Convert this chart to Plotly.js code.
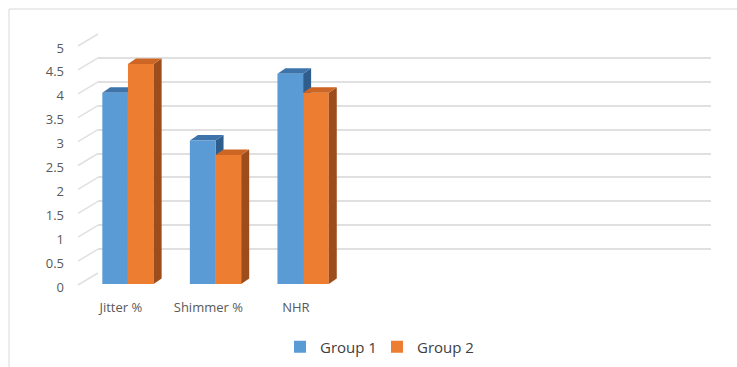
<!DOCTYPE html>
<html>
<head>
<meta charset="utf-8">
<script src="https://cdn.plot.ly/plotly-3.0.1.min.js"></script>
<style>
  html, body { margin: 0; padding: 0; background: #fff; }
  #chart { width: 737px; height: 367px; }
</style>
</head>
<body>
<div id="chart"></div>
<script>
// ---- data ----
const categories = ['Jitter %', 'Shimmer %', 'NHR'];
const seriesNames = ['Group 1', 'Group 2'];
const group1 = [4.0, 3.0, 4.4];
const group2 = [4.6, 2.7, 4.0];
const valueTicks = [0, 0.5, 1, 1.5, 2, 2.5, 3, 3.5, 4, 4.5, 5];

// ---- geometry (pixels of the 737x367 canvas) ----
const W = 737, H = 367;
const front = { x0: 77, x1: 690, yZero: 287, yTop: 48 };   // front plane, value 0..5
const wall = { dx: 21, dy: 14 };                            // back wall offset
const barLift = 3;                                          // bars sit slightly behind the front plane
const depth = { dx: 8, dy: 5.5 };                           // bar thickness
const slots = 7;
const vMax = 5;
const unitX = (front.x1 - front.x0) / slots;
const unitY = (front.yZero - front.yTop) / vMax;
const px = x => x / W;
const py = y => 1 - y / H;

const colors = {
  g1: { face: '#5B9BD5', top: '#3E74AA', side: '#2F5E8C' },
  g2: { face: '#ED7D31', top: '#CD6524', side: '#9C4D1B' }
};
const barWidth = 0.293;
const offsets = [-0.211, 0.082];

const xIdx = categories.map((_, i) => i);

const traces = [
  // empty traces so the back-wall and front-plane axes get their subplots
  { type: 'scatter', x: [], y: [], xaxis: 'x', yaxis: 'y', showlegend: false, hoverinfo: 'skip' },
  { type: 'scatter', x: [], y: [], xaxis: 'x2', yaxis: 'y2', showlegend: false, hoverinfo: 'skip' }
].concat([group1, group2].map((vals, s) => ({
  type: 'bar',
  name: seriesNames[s],
  x: xIdx,
  y: vals,
  xaxis: 'x2',
  yaxis: 'y3',
  width: barWidth,
  offset: offsets[s],
  marker: { color: s === 0 ? colors.g1.face : colors.g2.face, line: { width: 0 } },
  hoverinfo: 'skip'
})));

// ---- 3D faces of the bars (top + right side), built from the values ----
const ddx = depth.dx / unitX;
const ddy = depth.dy / unitY;
const shapes = [];
[group1, group2].forEach((vals, s) => {
  const c = s === 0 ? colors.g1 : colors.g2;
  const layer = s === 0 ? 'below' : 'above';
  vals.forEach((v, i) => {
    const xl = i + offsets[s];
    const xr = xl + barWidth;
    shapes.push({
      type: 'path', xref: 'x2', yref: 'y3', layer,
      path: `M${xr},0 L${xr},${v} L${xr + ddx},${v + ddy} L${xr + ddx},${ddy} Z`,
      fillcolor: c.side, line: { width: 0 }
    });
    shapes.push({
      type: 'path', xref: 'x2', yref: 'y3', layer,
      path: `M${xl},${v} L${xr},${v} L${xr + ddx},${v + ddy} L${xl + ddx},${v + ddy} Z`,
      fillcolor: c.top, line: { width: 0 }
    });
  });
});

// side-wall diagonals joining each front tick to its back-wall gridline
valueTicks.forEach(v => {
  const yf = front.yZero - v * unitY;
  shapes.push({
    type: 'line', xref: 'paper', yref: 'paper', layer: 'above',
    x0: px(front.x0 + 1), y0: py(yf - 2),
    x1: px(front.x0 + wall.dx), y1: py(yf - wall.dy),
    line: { color: '#e0e0e0', width: 1.5 }
  });
});

// chart-area border
shapes.push({
  type: 'rect', xref: 'paper', yref: 'paper', layer: 'above',
  x0: px(9), x1: px(W + 4), y0: py(H + 4), y1: py(9),
  line: { color: '#d9d9d9', width: 1 }, fillcolor: 'rgba(0,0,0,0)'
});

const tickFont = { family: 'Open Sans, sans-serif', size: 13, color: '#595959' };

const layout = {
  width: W, height: H,
  margin: { l: 0, r: 0, t: 0, b: 0, pad: 0 },
  paper_bgcolor: '#ffffff',
  plot_bgcolor: 'rgba(0,0,0,0)',
  showlegend: true,
  hovermode: false,
  // back wall: horizontal gridlines only
  xaxis: {
    domain: [px(front.x0 + wall.dx), px(front.x1 + wall.dx)],
    range: [0, 1], anchor: 'y',
    showgrid: false, zeroline: false, showticklabels: false, showline: false, ticks: ''
  },
  yaxis: {
    domain: [py(front.yZero - wall.dy), py(front.yTop - wall.dy)],
    range: [0, vMax], anchor: 'x',
    tickvals: valueTicks,
    showgrid: true, gridcolor: '#e0e0e0', gridwidth: 2,
    zeroline: false, showticklabels: false, showline: false, ticks: ''
  },
  // front plane: category and value labels
  xaxis2: {
    domain: [px(front.x0), px(front.x1)],
    range: [-0.5, slots - 0.5], anchor: 'y2',
    tickvals: xIdx, ticktext: categories,
    showgrid: false, zeroline: false, showline: false, ticks: '',
    tickfont: tickFont, ticklabelstandoff: 11
  },
  yaxis2: {
    domain: [py(front.yZero), py(front.yTop)],
    range: [0, vMax], anchor: 'x2',
    tickvals: valueTicks,
    showgrid: false, zeroline: false, showline: false, ticks: '',
    tickfont: tickFont, ticklabelstandoff: 12
  },
  // bar axis
  yaxis3: {
    domain: [py(front.yZero - barLift), py(front.yTop - barLift)],
    range: [0, vMax], anchor: 'x2', visible: false,
    showgrid: false, zeroline: false
  },
  legend: {
    orientation: 'h',
    x: px(377), xanchor: 'center',
    y: py(347), yanchor: 'middle',
    font: { family: 'Open Sans, sans-serif', size: 15, color: '#404040' },
    bgcolor: 'rgba(0,0,0,0)',
    traceorder: 'normal',
    entrywidth: 52, entrywidthmode: 'pixels'
  },
  shapes
};

Plotly.newPlot('chart', traces, layout, { displayModeBar: false, staticPlot: true });
</script>
</body>
</html>
